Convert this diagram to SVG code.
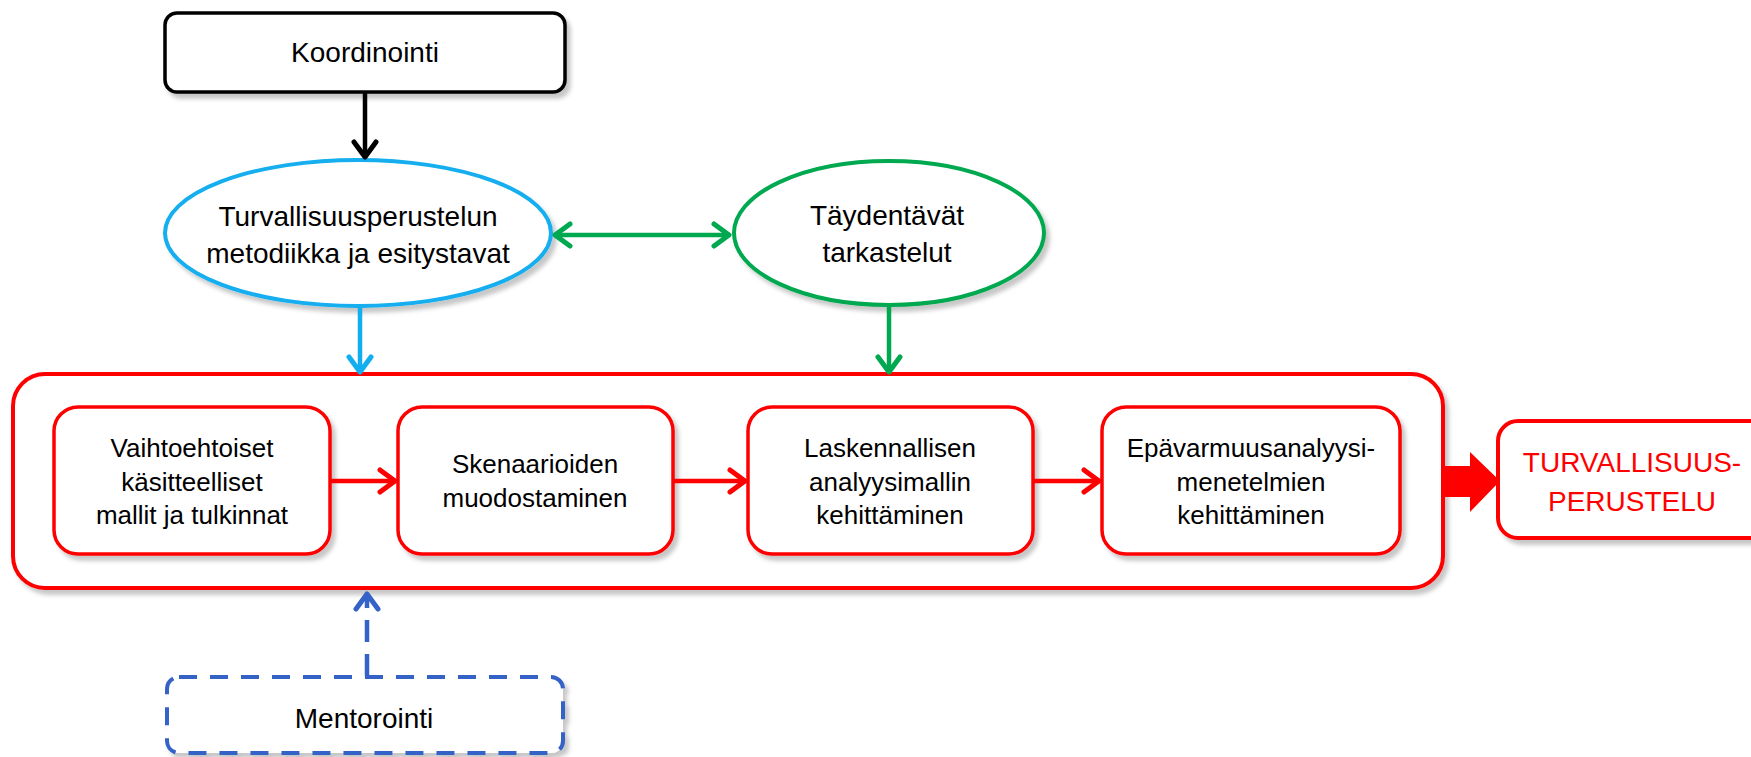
<svg xmlns="http://www.w3.org/2000/svg" width="1751" height="757" viewBox="0 0 1751 757">
<defs>
  <filter id="sh" x="-10%" y="-10%" width="130%" height="140%">
    <feDropShadow dx="4" dy="5" stdDeviation="2" flood-color="#000" flood-opacity="0.22"/>
  </filter>
  <marker id="ah-black" viewBox="-20 -15 24 30" refX="0" refY="0" markerWidth="24" markerHeight="30" markerUnits="userSpaceOnUse" orient="auto-start-reverse">
    <path d="M-15,-11 L0,0 L-15,11" fill="none" stroke="#000" stroke-width="5" stroke-linecap="round" stroke-linejoin="round"/>
  </marker>
  <marker id="ah-blue" viewBox="-20 -15 24 30" refX="0" refY="0" markerWidth="24" markerHeight="30" markerUnits="userSpaceOnUse" orient="auto-start-reverse">
    <path d="M-15,-11 L0,0 L-15,11" fill="none" stroke="#12AEEF" stroke-width="5" stroke-linecap="round" stroke-linejoin="round"/>
  </marker>
  <marker id="ah-green" viewBox="-20 -15 24 30" refX="0" refY="0" markerWidth="24" markerHeight="30" markerUnits="userSpaceOnUse" orient="auto-start-reverse">
    <path d="M-15,-11 L0,0 L-15,11" fill="none" stroke="#00A84F" stroke-width="5" stroke-linecap="round" stroke-linejoin="round"/>
  </marker>
  <marker id="ah-red" viewBox="-20 -15 24 30" refX="0" refY="0" markerWidth="24" markerHeight="30" markerUnits="userSpaceOnUse" orient="auto-start-reverse">
    <path d="M-15,-11 L0,0 L-15,11" fill="none" stroke="#FF0000" stroke-width="5" stroke-linecap="round" stroke-linejoin="round"/>
  </marker>
  <marker id="ah-dblue" viewBox="-20 -15 24 30" refX="0" refY="0" markerWidth="24" markerHeight="30" markerUnits="userSpaceOnUse" orient="auto-start-reverse">
    <path d="M-15,-11 L0,0 L-15,11" fill="none" stroke="#3562C6" stroke-width="5" stroke-linecap="round" stroke-linejoin="round"/>
  </marker>
</defs>
<style>
  text { font-family: "Liberation Sans", Arial, sans-serif; fill: #000; text-anchor: middle; }
  .big { font-size: 28px; }
  .box { font-size: 26px; }
  .red { fill: #FF0000; font-size: 28px; }
  .step { fill: #fff; stroke: #FF0000; stroke-width: 3.5; filter: url(#sh); }
  .conn { fill: none; stroke-width: 4.5; }
</style>
<rect width="1751" height="757" fill="#fff"/>

<g id="outer">
  <rect x="13" y="374" width="1430" height="214" rx="32" fill="#fff" stroke="#FF0000" stroke-width="4" filter="url(#sh)"/>
</g>

<g id="koordinointi">
  <rect x="165" y="13" width="400" height="79" rx="12" fill="#fff" stroke="#000" stroke-width="3.5" filter="url(#sh)"/>
  <text class="big" x="365" y="62">Koordinointi</text>
</g>

<g id="metodiikka">
  <ellipse cx="358" cy="233" rx="193" ry="73" fill="#fff" stroke="#12AEEF" stroke-width="4" filter="url(#sh)"/>
  <text class="big" x="358" y="226">Turvallisuusperustelun</text>
  <text class="big" x="358" y="263">metodiikka ja esitystavat</text>
</g>

<g id="taydentavat">
  <ellipse cx="889" cy="233" rx="155" ry="72" fill="#fff" stroke="#00A84F" stroke-width="4" filter="url(#sh)"/>
  <text class="big" x="887" y="225">Täydentävät</text>
  <text class="big" x="887" y="262">tarkastelut</text>
</g>

<g id="vaihtoehtoiset">
  <rect class="step" x="54" y="407" width="276" height="147" rx="24"/>
  <text class="box" x="192" y="457">Vaihtoehtoiset</text>
  <text class="box" x="192" y="491">käsitteelliset</text>
  <text class="box" x="192" y="524">mallit ja tulkinnat</text>
</g>

<g id="skenaariot">
  <rect class="step" x="398" y="407" width="275" height="147" rx="24"/>
  <text class="box" x="535" y="473">Skenaarioiden</text>
  <text class="box" x="535" y="507">muodostaminen</text>
</g>

<g id="laskennallinen">
  <rect class="step" x="748" y="407" width="285" height="147" rx="24"/>
  <text class="box" x="890" y="457">Laskennallisen</text>
  <text class="box" x="890" y="491">analyysimallin</text>
  <text class="box" x="890" y="524">kehittäminen</text>
</g>

<g id="epavarmuus">
  <rect class="step" x="1102" y="407" width="298" height="147" rx="24"/>
  <text class="box" x="1251" y="457">Epävarmuusanalyysi-</text>
  <text class="box" x="1251" y="491">menetelmien</text>
  <text class="box" x="1251" y="524">kehittäminen</text>
</g>

<g id="turvallisuusperustelu">
  <rect x="1498" y="421" width="280" height="117" rx="20" fill="#fff" stroke="#FF0000" stroke-width="4" filter="url(#sh)"/>
  <text class="red" x="1632" y="472">TURVALLISUUS-</text>
  <text class="red" x="1632" y="511">PERUSTELU</text>
</g>

<g id="mentorointi">
  <rect x="167" y="677" width="396" height="76" rx="12" fill="#fff" stroke="#3562C6" stroke-width="4" stroke-dasharray="18 13" filter="url(#sh)"/>
  <text class="big" x="364" y="728">Mentorointi</text>
</g>

<g id="connectors">
  <line class="conn" x1="365" y1="92" x2="365" y2="157" stroke="#000" marker-end="url(#ah-black)"/>
  <line class="conn" x1="360" y1="307" x2="360" y2="372" stroke="#12AEEF" marker-end="url(#ah-blue)"/>
  <line class="conn" x1="889" y1="306" x2="889" y2="372" stroke="#00A84F" marker-end="url(#ah-green)"/>
  <line class="conn" x1="555" y1="235" x2="729" y2="235" stroke="#00A84F" marker-start="url(#ah-green)" marker-end="url(#ah-green)"/>
  <line class="conn" x1="330" y1="481" x2="395" y2="481" stroke="#FF0000" marker-end="url(#ah-red)"/>
  <line class="conn" x1="673" y1="481" x2="745" y2="481" stroke="#FF0000" marker-end="url(#ah-red)"/>
  <line class="conn" x1="1033" y1="481" x2="1099" y2="481" stroke="#FF0000" marker-end="url(#ah-red)"/>
  <line class="conn" x1="367" y1="676" x2="367" y2="594" stroke="#3562C6" stroke-dasharray="22 12" marker-end="url(#ah-dblue)"/>
  <polygon points="1443,466 1470,466 1470,452 1500,481 1470,512 1470,497 1443,497" fill="#FF0000"/>
</g>
</svg>
